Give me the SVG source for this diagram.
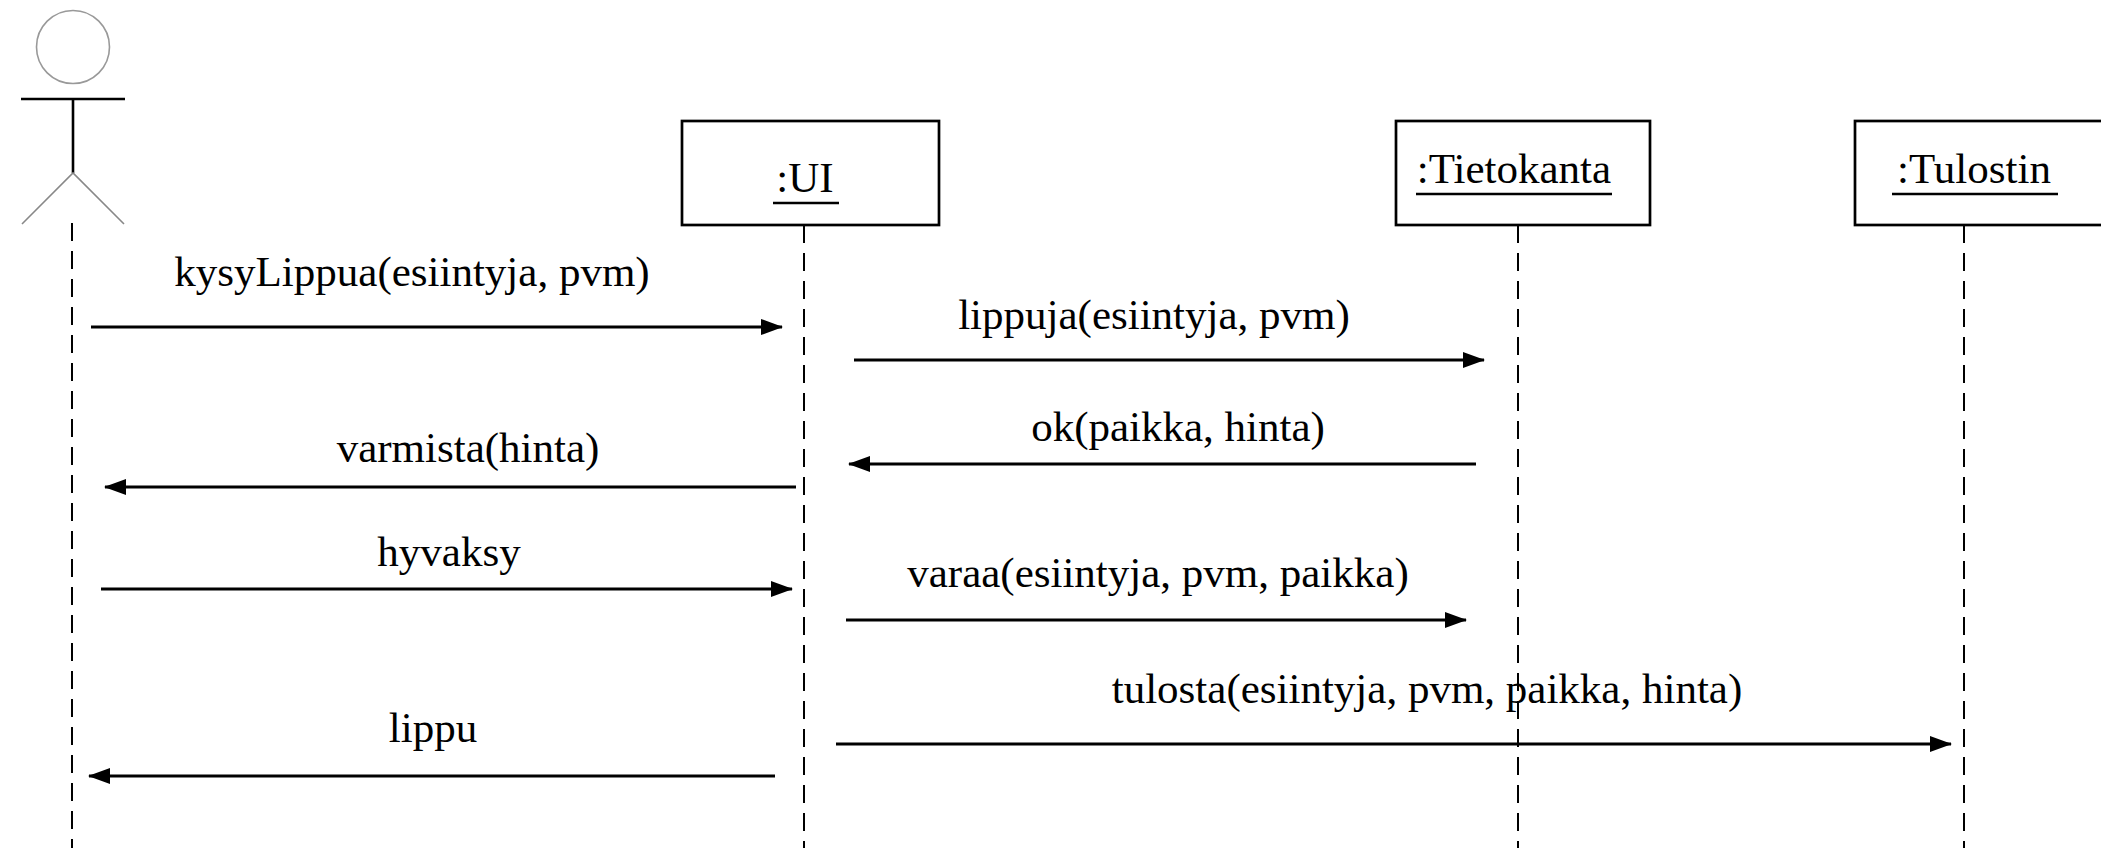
<svg xmlns="http://www.w3.org/2000/svg" width="2101" height="848" viewBox="0 0 2101 848">
<style>
text{font-family:"Liberation Serif","Times New Roman",serif;font-size:43px;fill:#000}
.lbl{text-anchor:middle}
.box{fill:#fff;stroke:#000;stroke-width:2.7}
.ul{stroke:#000;stroke-width:2.6}
.life{stroke:#000;stroke-width:2;stroke-dasharray:18 10;fill:none}
.msg{stroke:#000;stroke-width:3.2;fill:none}
</style>
<defs>
<marker id="ah" markerWidth="22" markerHeight="16" refX="21" refY="8" orient="auto" markerUnits="userSpaceOnUse">
<path d="M0,0 L22,8 L0,16 Z" fill="#000"/>
</marker>
</defs>
<rect width="2101" height="848" fill="#fff"/>
<g id="actor">
<circle cx="73" cy="47" r="36.5" fill="none" stroke="#999" stroke-width="1.6"/>
<line x1="21" y1="99" x2="125" y2="99" stroke="#000" stroke-width="2.6"/>
<line x1="73" y1="99" x2="73" y2="173" stroke="#000" stroke-width="2.6"/>
<path d="M22,224 L73,173 L124,224" fill="none" stroke="#888" stroke-width="1.6"/>
<line class="life" x1="72" y1="223" x2="72" y2="848"/>
</g>
<g id="ui">
<rect class="box" x="682" y="121" width="257" height="104"/>
<text class="lbl" x="805" y="192">:UI</text>
<line class="ul" x1="773" y1="203" x2="839" y2="203"/>
<line class="life" x1="804" y1="225" x2="804" y2="848"/>
</g>
<g id="tietokanta">
<rect class="box" x="1396" y="121" width="254" height="104"/>
<text class="lbl" x="1514" y="183">:Tietokanta</text>
<line class="ul" x1="1416" y1="194" x2="1612" y2="194"/>
<line class="life" x1="1518" y1="225" x2="1518" y2="848"/>
</g>
<g id="tulostin">
<rect class="box" x="1855" y="121" width="260" height="104"/>
<text class="lbl" x="1974" y="183">:Tulostin</text>
<line class="ul" x1="1892" y1="194" x2="2058" y2="194"/>
<line class="life" x1="1964" y1="225" x2="1964" y2="848"/>
</g>
<g id="connectors">
<line class="msg" x1="91" y1="327" x2="782" y2="327" marker-end="url(#ah)"/>
<text class="lbl" x="412" y="286">kysyLippua(esiintyja, pvm)</text>
<line class="msg" x1="854" y1="360" x2="1484" y2="360" marker-end="url(#ah)"/>
<text class="lbl" x="1154" y="329">lippuja(esiintyja, pvm)</text>
<line class="msg" x1="1476" y1="464" x2="849" y2="464" marker-end="url(#ah)"/>
<text class="lbl" x="1178" y="441">ok(paikka, hinta)</text>
<line class="msg" x1="796" y1="487" x2="105" y2="487" marker-end="url(#ah)"/>
<text class="lbl" x="468" y="462">varmista(hinta)</text>
<line class="msg" x1="101" y1="589" x2="792" y2="589" marker-end="url(#ah)"/>
<text class="lbl" x="449" y="566">hyvaksy</text>
<line class="msg" x1="846" y1="620" x2="1466" y2="620" marker-end="url(#ah)"/>
<text class="lbl" x="1158" y="587">varaa(esiintyja, pvm, paikka)</text>
<line class="msg" x1="836" y1="744" x2="1951" y2="744" marker-end="url(#ah)"/>
<text class="lbl" x="1427" y="703">tulosta(esiintyja, pvm, paikka, hinta)</text>
<line class="msg" x1="775" y1="776" x2="89" y2="776" marker-end="url(#ah)"/>
<text class="lbl" x="433" y="742">lippu</text>
</g>
</svg>
